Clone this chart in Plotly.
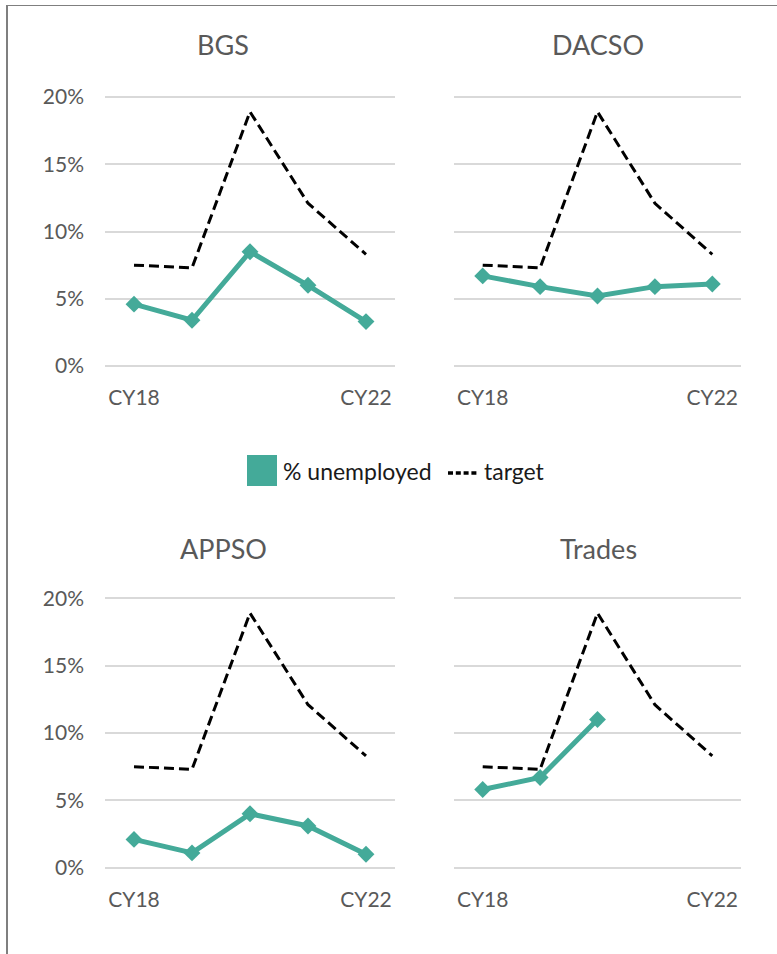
import plotly.graph_objects as go

# ---------------- data ----------------
years = ["CY18", "CY19", "CY20", "CY21", "CY22"]
year_labels = ["CY18", "", "", "", "CY22"]
target = [0.075, 0.073, 0.189, 0.121, 0.083]
bgs = [0.046, 0.034, 0.085, 0.060, 0.033]
dacso = [0.067, 0.059, 0.052, 0.059, 0.061]
appso = [0.021, 0.011, 0.040, 0.031, 0.010]
trades = [0.058, 0.067, 0.110, None, None]
panel_names = ["BGS", "DACSO", "APPSO", "Trades"]
panel_values = [bgs, dacso, appso, trades]
y_ticks = [0, 0.05, 0.10, 0.15, 0.20]

# ---------------- layout helpers ----------------
W, H = 777, 954
TEAL = "#44AA99"
GRAY_TXT = "#595959"
FONT = "Lato"

def px_x(x):
    return x / W

def px_y(y):
    return 1 - y / H

# pixel positions of each panel: (x_left, x_right, y_of_0pct, y_of_20pct)
panels_px = [
    (105, 395, 366.0, 97.0),
    (454, 741, 366.0, 97.0),
    (105, 395, 867.7, 598.3),
    (454, 741, 867.7, 598.3),
]
title_px = [(223, 45), (598, 45), (223, 548), (598, 548)]
YMIN, YMAX = -0.01, 0.21

fig = go.Figure()
layout_axes = {}
for i, (name, vals) in enumerate(zip(panel_names, panel_values)):
    n = i + 1
    xl, xr, y0, y20 = panels_px[i]
    per = (y0 - y20) / 0.20
    ybot = y0 + (0 - YMIN) * per
    ytop = y20 - (YMAX - 0.20) * per
    xa = "x" if n == 1 else f"x{n}"
    ya = "y" if n == 1 else f"y{n}"
    fig.add_trace(go.Scatter(
        x=years, y=target, mode="lines", name="target",
        line=dict(color="black", width=3, dash="10px,5px"),
        xaxis=xa, yaxis=ya, showlegend=False, hoverinfo="skip"))
    fig.add_trace(go.Scatter(
        x=years, y=vals, mode="lines+markers", name="% unemployed",
        line=dict(color=TEAL, width=5),
        marker=dict(symbol="diamond", size=13, color=TEAL),
        connectgaps=False,
        xaxis=xa, yaxis=ya, showlegend=False))
    xkey = "xaxis" if n == 1 else f"xaxis{n}"
    ykey = "yaxis" if n == 1 else f"yaxis{n}"
    layout_axes[xkey] = dict(
        domain=[px_x(xl), px_x(xr)], anchor=ya, type="category",
        categoryorder="array", categoryarray=years,
        range=[-0.5, len(years) - 0.5],
        tickmode="array", tickvals=years, ticktext=year_labels,
        showgrid=False, zeroline=False, showline=False, ticks="",
        ticklabelstandoff=4,
        tickfont=dict(family=FONT, size=21, color=GRAY_TXT))
    layout_axes[ykey] = dict(
        domain=[px_y(ybot), px_y(ytop)], anchor=xa,
        range=[YMIN, YMAX], tickmode="array", tickvals=y_ticks,
        tickformat=".0%", showticklabels=(n in (1, 3)),
        showgrid=True, gridcolor="#d9d9d9", gridwidth=1.5,
        zeroline=False, showline=False, ticks="",
        ticklabelstandoff=20,
        tickfont=dict(family=FONT, size=21, color=GRAY_TXT))

annotations = []
for (tx, ty), name in zip(title_px, panel_names):
    annotations.append(dict(
        x=px_x(tx), y=px_y(ty), xref="paper", yref="paper",
        text=name, showarrow=False, xanchor="center", yanchor="middle",
        font=dict(family=FONT, size=27, color=GRAY_TXT)))

# legend drawn manually
annotations.append(dict(
    x=px_x(281), y=px_y(471), xref="paper", yref="paper",
    text="% unemployed", showarrow=False, xanchor="left", yanchor="middle",
    font=dict(family=FONT, size=23, color="#1a1a1a")))
annotations.append(dict(
    x=px_x(482), y=px_y(471), xref="paper", yref="paper",
    text="target", showarrow=False, xanchor="left", yanchor="middle",
    font=dict(family=FONT, size=23, color="#1a1a1a")))

shapes = [
    dict(type="rect", xref="paper", yref="paper",
         x0=px_x(247), x1=px_x(277), y0=px_y(486), y1=px_y(455),
         fillcolor=TEAL, line=dict(width=0)),
    dict(type="line", xref="paper", yref="paper",
         x0=px_x(448), x1=px_x(478), y0=px_y(473), y1=px_y(473),
         line=dict(color="black", width=3.5, dash="5px,2.8px")),
    # outer chart border (partially visible)
    dict(type="line", xref="paper", yref="paper",
         x0=px_x(7), x1=px_x(7), y0=px_y(5), y1=px_y(960),
         line=dict(color="#7f7f7f", width=2)),
    dict(type="line", xref="paper", yref="paper",
         x0=px_x(6), x1=px_x(780), y0=px_y(5.5), y1=px_y(5.5),
         line=dict(color="#7f7f7f", width=1)),
]

fig.update_layout(
    width=W, height=H,
    margin=dict(l=0, r=0, t=0, b=0),
    paper_bgcolor="white", plot_bgcolor="white",
    showlegend=False, hovermode=False,
    annotations=annotations, shapes=shapes,
    **layout_axes)

fig.write_html(
    "out.html",
    config={"displayModeBar": False},
    post_script="document.body.style.margin='0';document.body.style.overflow='hidden';")
